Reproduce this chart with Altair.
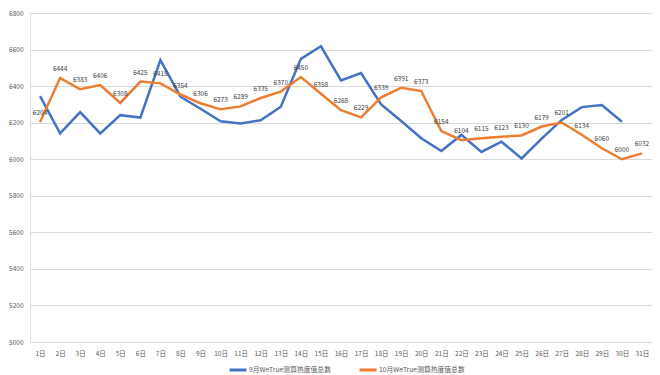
import altair as alt
import pandas as pd

days = [f"{i}日" for i in range(1, 32)]
sep_name = "9月WeTrue测算热度值总数"
oct_name = "10月WeTrue测算热度值总数"
sep_values = [6345, 6141, 6258, 6141, 6241, 6228, 6542, 6342, 6276, 6208,
              6196, 6213, 6287, 6549, 6618, 6431, 6471, 6300, 6209, 6115,
              6045, 6133, 6040, 6096, 6004, 6113, 6215, 6285, 6296, 6205]
oct_values = [6204, 6444, 6383, 6406, 6308, 6425, 6415, 6354, 6306, 6273,
              6289, 6335, 6370, 6450, 6358, 6268, 6229, 6339, 6391, 6373,
              6154, 6104, 6115, 6123, 6130, 6179, 6201, 6134, 6060, 6000, 6032]
y_ticks = list(range(5000, 6801, 200))

rows = []
for d, v in zip(days, sep_values):
    rows.append({"day": d, "series": sep_name, "value": v})
for d, v in zip(days, oct_values):
    rows.append({"day": d, "series": oct_name, "value": v})
df = pd.DataFrame(rows)
oct_df = df[df["series"] == oct_name]

FONT = "Noto Sans CJK SC"

x = alt.X("day:O", sort=days, scale=alt.Scale(type="point", padding=0.5),
          axis=alt.Axis(title=None, labelAngle=0, ticks=False, domain=True,
                        domainColor="#d9d9d9", labelFontSize=6.5, labelColor="#595959",
                        labelPadding=8, labelFont=FONT))
y = alt.Y("value:Q", scale=alt.Scale(domain=[5000, 6800], nice=False, zero=False),
          axis=alt.Axis(title=None, values=y_ticks, ticks=False, format="d",
                        domain=False, gridColor="#d9d9d9", labelFontSize=6.5,
                        labelColor="#595959", labelPadding=7, labelFont=FONT,
                        labelOverlap=False))

lines = alt.Chart(df).mark_line(strokeWidth=2.5).encode(
    x=x, y=y,
    color=alt.Color("series:N",
                    scale=alt.Scale(domain=[sep_name, oct_name], range=["#4472C4", "#ED7D31"]),
                    legend=alt.Legend(title=None, orient="none", legendX=198, legendY=347,
                                      direction="horizontal", symbolType="stroke",
                                      symbolSize=289, symbolStrokeWidth=3, labelOffset=1,
                                      columnPadding=22, labelFontSize=6.8, labelColor="#595959",
                                      labelFont=FONT)),
)

labels = alt.Chart(oct_df).mark_text(dy=-9, fontSize=6.5, color="#404040", font=FONT).encode(
    x=x, y=y, text="value:Q"
)

chart = (lines + labels).properties(
    width=622, height=329,
    autosize=alt.AutoSizeParams(type="none"),
    padding={"left": 22, "top": 5, "right": 0, "bottom": 33},
).configure_view(stroke=None).configure(font=FONT)

chart.save("out.html", embed_options={"renderer": "svg", "actions": False})
